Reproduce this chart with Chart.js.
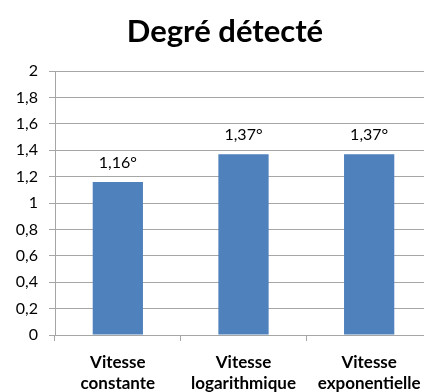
<!DOCTYPE html>
<html>
<head>
<meta charset="utf-8">
<script src="https://cdn.jsdelivr.net/npm/chart.js@4/dist/chart.umd.min.js"></script>
<style>
  html, body { margin: 0; padding: 0; background: #fff; overflow: hidden; }
  #wrap { width: 450px; height: 392px; }
</style>
</head>
<body>
<div id="wrap"><canvas id="myChart" width="450" height="392"></canvas></div>
<script>
// categories (two lines each) and detected angle in degrees
var categories = [['Vitesse', 'constante'], ['Vitesse', 'logarithmique'], ['Vitesse', 'exponentielle']]
var degrees = [1.16, 1.37, 1.37]
var yTicks = [0, 0.2, 0.4, 0.6, 0.8, 1, 1.2, 1.4, 1.6, 1.8, 2]

function frNumber(v, digits) {
	return (digits == null ? String(Math.round(v * 10) / 10) : v.toFixed(digits)).replace('.', ',')
}

// writes the value above each bar
var valueLabels = {
	id: 'valueLabels',
	afterLayout: function (chart) {
		// title sits centred on the full canvas, not on the padded area
		chart.titleBlock.left += 9
		chart.titleBlock.right += 9
	},
	afterDatasetsDraw: function (chart) {
		var ctx = chart.ctx
		var meta = chart.getDatasetMeta(0)
		ctx.save()
		ctx.font = '16px Lato'
		ctx.fillStyle = '#000'
		ctx.textAlign = 'center'
		ctx.textBaseline = 'alphabetic'
		meta.data.forEach(function (bar, i) {
			ctx.fillText(frNumber(degrees[i], 2) + '°', bar.x, bar.y - 14)
		})
		ctx.restore()
	}
}

var ctx = document.getElementById('myChart').getContext('2d')
var myChart = new Chart(ctx, {
	type: 'bar',
	data: {
		labels: categories,
		datasets: [{
			data: degrees,
			backgroundColor: '#4f81bd',
			borderWidth: 0,
			barPercentage: 0.4,
			categoryPercentage: 1
		}]
	},
	options: {
		responsive: false,
		animation: false,
		layout: { padding: { left: 0, right: 18, top: 0, bottom: 0 } },
		plugins: {
			legend: { display: false },
			tooltip: { enabled: false },
			title: {
				display: true,
				text: 'Degré détecté',
				color: '#000',
				font: { family: 'Lato', size: 31, weight: 'bold', lineHeight: 1.2 },
				padding: { top: 13, bottom: 21 }
			}
		},
		scales: {
			x: {
				grid: { offset: true, drawOnChartArea: false, color: '#a6a6a6', tickLength: 6 },
				border: { color: '#a6a6a6' },
				ticks: {
					color: '#000',
					font: { family: 'Lato', size: 17, weight: 'bold', lineHeight: 1.25 },
					padding: 11,
					maxRotation: 0
				},
				afterFit: function (scale) { scale.height = 57 }
			},
			y: {
				min: 0,
				max: 2,
				afterBuildTicks: function (scale) {
					scale.ticks = yTicks.map(function (v) { return { value: v } })
				},
				grid: { color: '#a6a6a6', tickLength: 6 },
				border: { color: '#a6a6a6' },
				ticks: {
					color: '#000',
					font: { family: 'Lato', size: 16 },
					padding: 11,
					callback: function (v) { return frNumber(v) }
				},
				afterFit: function (scale) { scale.width = 55 }
			}
		}
	},
	plugins: [valueLabels]
})
</script>
</body>
</html>
